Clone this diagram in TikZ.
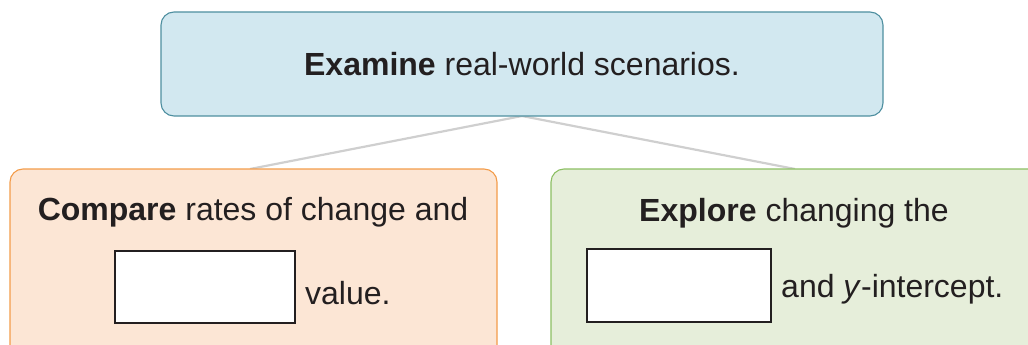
\documentclass[tikz,border=0pt]{standalone}
\usepackage{fontspec}
\setmainfont{Liberation Sans}
\definecolor{topfill}{HTML}{D2E8F0}
\definecolor{topdraw}{HTML}{4E8FA0}
\definecolor{lfill}{HTML}{FCE6D5}
\definecolor{ldraw}{HTML}{F39C4A}
\definecolor{rfill}{HTML}{E6EEDA}
\definecolor{rdraw}{HTML}{8CBF63}
\definecolor{txt}{HTML}{231F20}
\definecolor{link}{HTML}{CFCFCF}
\begin{document}
\begin{tikzpicture}[x=1pt,y=-1pt,
  panel/.style={rounded corners=13pt, line width=1.1pt},
  blank/.style={draw=txt, fill=white, line width=2pt},
  lbl/.style={inner sep=0pt, text=txt, font=\fontsize{32}{38}\selectfont, anchor=center},
  linkline/.style={draw=link, line width=2.2pt}]
\useasboundingbox (0,0) rectangle (1028,345);
% connectors
\coordinate (hub) at (522,116);
\coordinate (lend) at (250,169);
\coordinate (rend) at (795,169);
\draw[linkline] (hub) -- (lend);
\draw[linkline] (hub) -- (rend);
% panels
\draw[panel, fill=topfill, draw=topdraw] (161,12) rectangle (883,116);
\draw[panel, fill=lfill, draw=ldraw] (10,169) rectangle (497,360);
\draw[panel, fill=rfill, draw=rdraw] (551,169) rectangle (1045,360);
% texts
\node[lbl] (t1) at (522,64) {\textbf{Examine} real-world scenarios.};
\node[lbl] (l1) at (253,212) {\textbf{Compare} rates of change and};
\node[blank, minimum width=180pt, minimum height=72pt, inner sep=0pt] (lb) at (205,287) {};
\node[lbl, anchor=west] (l2) at (305,293) {value.};
\node[lbl] (r1) at (794,213) {\textbf{Explore} changing the};
\node[blank, minimum width=184pt, minimum height=73pt, inner sep=0pt] (rb) at (679,285.5) {};
\node[lbl, anchor=west] (r2) at (781,289) {and \textit{y}-intercept.};
\end{tikzpicture}
\end{document}
